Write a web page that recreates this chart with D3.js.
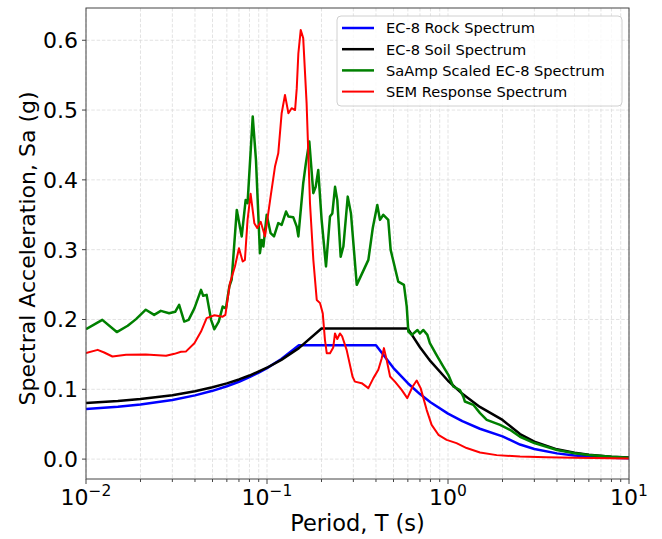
<!DOCTYPE html>
<html>
<head>
<meta charset="utf-8">
<script src="https://cdn.jsdelivr.net/npm/d3@7"></script>
<style>
  body { margin: 0; background: #fff; }
  svg { display: block; font-family: "DejaVu Sans", sans-serif; }
</style>
</head>
<body>
<svg id="chart" width="662" height="539"></svg>
<script>
// Periods (s) and spectral accelerations (g)
const rockT  = [0.01, 0.015, 0.02, 0.03, 0.04, 0.05, 0.06, 0.07, 0.08, 0.09, 0.1, 0.12, 0.15, 0.4, 0.5, 0.6, 0.7, 0.8, 1.0, 1.2, 1.5, 2.0, 2.5, 3.0, 4.0, 5.0, 6.0, 8.0, 10.0];
const rockSa = [0.0717, 0.0750, 0.0782, 0.0848, 0.0913, 0.0978, 0.1043, 0.1108, 0.1174, 0.1239, 0.1304, 0.1434, 0.163, 0.163, 0.1304, 0.1087, 0.0931, 0.0815, 0.0652, 0.0543, 0.0435, 0.0326, 0.0209, 0.0145, 0.0082, 0.0052, 0.0036, 0.0020, 0.0013];

const soilT  = [0.01, 0.015, 0.02, 0.03, 0.04, 0.05, 0.06, 0.07, 0.08, 0.1, 0.12, 0.15, 0.2, 0.6, 0.7, 0.8, 1.0, 1.2, 1.5, 2.0, 2.5, 3.0, 4.0, 5.0, 6.0, 8.0, 10.0];
const soilSa = [0.0804, 0.0832, 0.0860, 0.0916, 0.0972, 0.1029, 0.1085, 0.1141, 0.1197, 0.1309, 0.1421, 0.1590, 0.187, 0.187, 0.1603, 0.1403, 0.1122, 0.0935, 0.0748, 0.0561, 0.0359, 0.0249, 0.0140, 0.0090, 0.0062, 0.0035, 0.0022];

const saampT  = [0.0100, 0.0123, 0.0148, 0.0170, 0.0189, 0.0214, 0.0238, 0.0259, 0.0288, 0.0311, 0.0327, 0.0349, 0.0369, 0.0397, 0.0432, 0.0444, 0.0464, 0.0491, 0.0512, 0.0541, 0.0569, 0.0593, 0.0619, 0.0638, 0.0681, 0.0725, 0.0762, 0.0781, 0.0834, 0.0869, 0.0914, 0.0935, 0.0955, 0.0996, 0.1047, 0.1093, 0.1154, 0.1205, 0.1274, 0.1313, 0.1396, 0.1460, 0.1490, 0.1585, 0.1640, 0.1713, 0.1803, 0.1858, 0.1919, 0.2003, 0.2118, 0.2228, 0.2296, 0.2377, 0.2445, 0.2553, 0.2642, 0.2793, 0.2910, 0.3133, 0.3631, 0.3840, 0.4068, 0.4209, 0.4392, 0.4677, 0.4822, 0.5309, 0.5710, 0.5916, 0.6039, 0.631, 0.678, 0.700, 0.731, 0.769, 0.794, 0.865, 0.942, 1.004, 1.069, 1.164, 1.215, 1.24, 1.38, 1.503, 1.637, 1.94, 2.20, 2.50, 3.0, 4.0, 5.0, 6.0, 8.0, 10.0];
const saampSa = [0.186, 0.1995, 0.182, 0.191, 0.2005, 0.214, 0.2066, 0.2124, 0.209, 0.211, 0.221, 0.197, 0.1995, 0.216, 0.2425, 0.234, 0.2353, 0.1995, 0.186, 0.197, 0.2185, 0.216, 0.247, 0.257, 0.357, 0.319, 0.371, 0.3666, 0.4906, 0.4286, 0.295, 0.314, 0.3045, 0.350, 0.3236, 0.319, 0.338, 0.3355, 0.3546, 0.3475, 0.3466, 0.333, 0.319, 0.395, 0.424, 0.455, 0.381, 0.390, 0.414, 0.343, 0.276, 0.3475, 0.352, 0.390, 0.371, 0.290, 0.3045, 0.376, 0.352, 0.2496, 0.2854, 0.331, 0.364, 0.3427, 0.350, 0.3427, 0.2997, 0.2543, 0.2496, 0.2185, 0.1827, 0.178, 0.185, 0.180, 0.185, 0.178, 0.166, 0.149, 0.1326, 0.1207, 0.104, 0.099, 0.0896, 0.0825, 0.0778, 0.0659, 0.0563, 0.049, 0.042, 0.032, 0.023, 0.013, 0.0085, 0.0059, 0.0034, 0.0021];

const semT  = [0.0100, 0.0116, 0.0126, 0.0140, 0.01665, 0.0214, 0.0277, 0.0308, 0.0335, 0.0356, 0.0397, 0.0432, 0.0464, 0.0512, 0.0569, 0.0589, 0.0624, 0.0665, 0.0700, 0.0734, 0.0755, 0.0781, 0.0812, 0.0851, 0.0883, 0.0923, 0.0975, 0.1047, 0.1107, 0.1154, 0.1205, 0.1257, 0.1313, 0.1368, 0.1429, 0.1460, 0.1490, 0.1536, 0.1585, 0.1655, 0.1728, 0.1803, 0.1883, 0.1964, 0.2032, 0.2090, 0.2138, 0.2229, 0.2323, 0.2375, 0.2445, 0.2529, 0.2600, 0.2754, 0.297, 0.306, 0.3335, 0.363, 0.387, 0.412, 0.4306, 0.4426, 0.458, 0.4786, 0.509, 0.5546, 0.5957, 0.6379, 0.6716, 0.706, 0.762, 0.812, 0.885, 0.983, 1.114, 1.267, 1.503, 1.858, 2.50, 3.5, 5.0, 10.0];
const semSa = [0.1518, 0.1565, 0.1527, 0.147, 0.1494, 0.1498, 0.148, 0.1508, 0.1537, 0.154, 0.166, 0.1827, 0.2019, 0.206, 0.204, 0.2066, 0.252, 0.2758, 0.302, 0.283, 0.2854, 0.3427, 0.380, 0.338, 0.331, 0.340, 0.319, 0.376, 0.419, 0.438, 0.4955, 0.5217, 0.4955, 0.5027, 0.500, 0.531, 0.581, 0.6148, 0.603, 0.51, 0.3666, 0.2854, 0.228, 0.2234, 0.209, 0.1708, 0.1518, 0.1518, 0.160, 0.180, 0.172, 0.180, 0.176, 0.1565, 0.118, 0.111, 0.1088, 0.1017, 0.116, 0.1279, 0.1446, 0.159, 0.1422, 0.1183, 0.111, 0.0992, 0.0873, 0.104, 0.1126, 0.1017, 0.0706, 0.0491, 0.0348, 0.0276, 0.0229, 0.0158, 0.0095, 0.0057, 0.0037, 0.0025, 0.0018, 0.0010];

const yTicks = [0.0, 0.1, 0.2, 0.3, 0.4, 0.5, 0.6];
const xDecades = [0.01, 0.1, 1, 10];
const xExponents = ["−2", "−1", "0", "1"];

const seriesList = [
  { name: "EC-8 Rock Spectrum", T: rockT, Sa: rockSa, color: "#0000ff", width: 2.5 },
  { name: "EC-8 Soil Spectrum", T: soilT, Sa: soilSa, color: "#000000", width: 2.5 },
  { name: "SaAmp Scaled EC-8 Spectrum", T: saampT, Sa: saampSa, color: "#008000", width: 2.5 },
  { name: "SEM Response Spectrum", T: semT, Sa: semSa, color: "#ff0000", width: 2 }
];

const width = 662, height = 539;
const margin = { top: 8, right: 33, bottom: 60, left: 86 };
const innerWidth = width - margin.left - margin.right;
const innerHeight = height - margin.top - margin.bottom;

const svg = d3.select("#chart");

const x = d3.scaleLog().domain([0.01, 10]).range([0, innerWidth]);
const y = d3.scaleLinear().domain([-0.0285, 0.6462]).range([innerHeight, 0]);

const g = svg.append("g")
  .attr("transform", `translate(${margin.left},${margin.top})`);

// minor ticks 2..9 in each decade
const minorTicks = [];
xDecades.slice(0, 3).forEach(d => {
  for (let k = 2; k <= 9; k++) minorTicks.push(d * k);
});

// grid
g.append("g")
  .selectAll("line")
  .data(xDecades.concat(minorTicks))
  .join("line")
  .attr("x1", d => x(d)).attr("x2", d => x(d))
  .attr("y1", 0).attr("y2", innerHeight)
  .attr("stroke", "#dcdcdc")
  .attr("stroke-width", 0.8)
  .attr("stroke-dasharray", "3.5,1.8");

g.append("g")
  .selectAll("line")
  .data(yTicks)
  .join("line")
  .attr("x1", 0).attr("x2", innerWidth)
  .attr("y1", d => y(d)).attr("y2", d => y(d))
  .attr("stroke", "#dcdcdc")
  .attr("stroke-width", 0.8)
  .attr("stroke-dasharray", "3.5,1.8");

// curves
g.append("clipPath").attr("id", "plot-clip")
  .append("rect").attr("width", innerWidth).attr("height", innerHeight);

const line = d3.line()
  .x(d => x(d[0]))
  .y(d => y(d[1]));

g.append("g")
  .attr("clip-path", "url(#plot-clip)")
  .selectAll("path")
  .data(seriesList)
  .join("path")
  .attr("d", s => line(d3.zip(s.T, s.Sa)))
  .attr("fill", "none")
  .attr("stroke", s => s.color)
  .attr("stroke-width", s => s.width)
  .attr("stroke-linejoin", "round");

// frame
g.append("rect")
  .attr("width", innerWidth).attr("height", innerHeight)
  .attr("fill", "none")
  .attr("stroke", "#444")
  .attr("stroke-width", 1);

// y axis ticks + labels
const yAxis = g.append("g");
yAxis.selectAll("line")
  .data(yTicks)
  .join("line")
  .attr("x1", -4).attr("x2", 0)
  .attr("y1", d => y(d)).attr("y2", d => y(d))
  .attr("stroke", "#444");
yAxis.selectAll("text")
  .data(yTicks)
  .join("text")
  .attr("x", -8)
  .attr("y", d => y(d))
  .attr("dy", "0.36em")
  .attr("text-anchor", "end")
  .attr("font-size", 22)
  .attr("fill", "#000")
  .text(d => d.toFixed(1));

// x axis ticks + labels
const xAxis = g.append("g").attr("transform", `translate(0,${innerHeight})`);
xAxis.selectAll("line.major")
  .data(xDecades)
  .join("line")
  .attr("class", "major")
  .attr("x1", d => x(d)).attr("x2", d => x(d))
  .attr("y1", 0).attr("y2", 5)
  .attr("stroke", "#444");
xAxis.selectAll("line.minor")
  .data(minorTicks)
  .join("line")
  .attr("class", "minor")
  .attr("x1", d => x(d)).attr("x2", d => x(d))
  .attr("y1", 0).attr("y2", 3)
  .attr("stroke", "#444");

const xLabels = xAxis.selectAll("text")
  .data(xDecades)
  .join("text")
  .attr("x", d => x(d))
  .attr("y", 26)
  .attr("text-anchor", "middle")
  .attr("font-size", 22)
  .attr("fill", "#000");
xLabels.append("tspan").text("10");
xLabels.append("tspan")
  .attr("dy", -9)
  .attr("font-size", 15.5)
  .text((d, i) => xExponents[i]);

// axis titles
svg.append("text")
  .attr("x", margin.left + innerWidth / 2)
  .attr("y", 531)
  .attr("text-anchor", "middle")
  .attr("font-size", 22.5)
  .text("Period, T (s)");

svg.append("text")
  .attr("transform", `translate(35,${margin.top + innerHeight / 2 + 5}) rotate(-90)`)
  .attr("text-anchor", "middle")
  .attr("font-size", 22)
  .text("Spectral Acceleration, Sa (g)");

// legend
const legend = svg.append("g").attr("transform", "translate(337,16)");
legend.append("rect")
  .attr("width", 285).attr("height", 90)
  .attr("rx", 4)
  .attr("fill", "#fff").attr("fill-opacity", 0.8)
  .attr("stroke", "#d0d0d0");

const items = legend.selectAll("g.item")
  .data(seriesList)
  .join("g")
  .attr("class", "item")
  .attr("transform", (d, i) => `translate(0,${12 + i * 21.2})`);
items.append("line")
  .attr("x1", 5).attr("x2", 37)
  .attr("stroke", d => d.color)
  .attr("stroke-width", d => d.width);
items.append("text")
  .attr("x", 49)
  .attr("y", 5.3)
  .attr("font-size", 14.6)
  .attr("fill", "#000")
  .text(d => d.name);
</script>
</body>
</html>
